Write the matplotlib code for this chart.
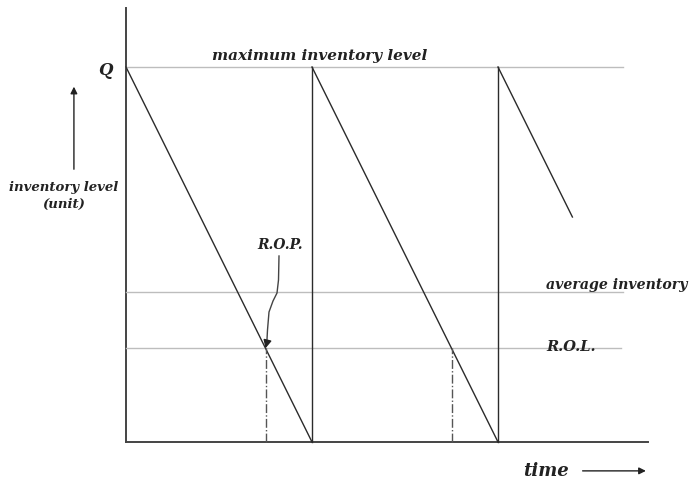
import numpy as np
import matplotlib
matplotlib.use("Agg")
import matplotlib.pyplot as plt

# inventory model values (time in cycles, level as fraction of Q)
cycle_start = [0.0, 1.0, 2.0]
cycle_end = [1.0, 2.0, 2.4]
end_level = [0.0, 0.0, 0.6]
Q = 1.0
avg_level = 0.4
rol_level = 0.25
rop_times = [0.75, 1.75]

labels = {
    "q": "Q",
    "max": "maximum inventory level",
    "avg": "average inventory",
    "rol": "R.O.L.",
    "rop": "R.O.P.",
    "ylab": "inventory level\n(unit)",
    "time": "time",
}

# pixel mapping: t -> 126 + 186 t ; level -> 442 - 375 level
px_x0, px_xs = 126, 186.0
px_y0, px_ys = 442, 375.0
W, H = 700, 482

fig = plt.figure(figsize=(7, 4.82), dpi=100)
ax = fig.add_axes([0, 0, 1, 1])
ax.set_xlim(-px_x0 / px_xs, (W - px_x0) / px_xs)
ax.set_ylim((px_y0 - H) / px_ys, px_y0 / px_ys)
ax.axis("off")

dark = "#2b2b2b"
grey = "#bdbdbd"
font = dict(family="DejaVu Serif", style="italic", weight="bold", color="#222222")

# axes
ax.plot([0, 0], [0, 1.157], color="#444444", lw=1.4)
ax.plot([0, 2.806], [0, 0], color="#444444", lw=1.4)

# reference levels
ax.plot([0, 2.67], [Q, Q], color=grey, lw=1)
ax.plot([0, 2.67], [avg_level, avg_level], color=grey, lw=1)
ax.plot([0, 2.66], [rol_level, rol_level], color=grey, lw=1)

# sawtooth
for s, e, lv in zip(cycle_start, cycle_end, end_level):
    ax.plot([s, e], [Q, lv], color=dark, lw=1)
    if lv == 0:
        ax.plot([e, e], [0, Q], color=dark, lw=1)

# reorder points
for t in rop_times:
    ax.plot([t, t], [0, rol_level], color="#555555", lw=1, linestyle="-.")

# R.O.P. curved arrow
cx = (np.array([279, 278.5, 277, 273, 269, 267.5, 266.8]) - px_x0) / px_xs
cy = (px_y0 - np.array([256, 280, 293, 301, 312, 330, 343])) / px_ys
ax.plot(cx, cy, color="#444444", lw=1)
ax.annotate("", xy=(rop_times[0], rol_level), xytext=(cx[-1], cy[-1]),
            arrowprops=dict(arrowstyle="-|>", color="#222222", lw=1, mutation_scale=12))

# inventory level arrow
ax.annotate("", xy=(-0.28, 0.955), xytext=(-0.28, 0.72),
            arrowprops=dict(arrowstyle="-|>", color="#222222", lw=1, mutation_scale=10))

# time arrow
ax.annotate("", xy=(2.81, -0.077), xytext=(2.44, -0.077),
            arrowprops=dict(arrowstyle="-|>", color="#222222", lw=1, mutation_scale=10))

ax.text(-0.07, Q - 0.008, labels["q"], ha="right", va="center", fontsize=12, **font)
ax.text(1.04, 1.03, labels["max"], ha="center", va="center", fontsize=11, **font)
ax.text(2.26, 0.42, labels["avg"], ha="left", va="center", fontsize=10.2, **font)
ax.text(2.26, 0.253, labels["rol"], ha="left", va="center", fontsize=10.5, **font)
ax.text(0.83, 0.525, labels["rop"], ha="center", va="center", fontsize=10, **font)
ax.text(-0.335, 0.656, labels["ylab"], ha="center", va="center", fontsize=9.5,
        linespacing=1.4, **font)
ax.text(2.26, -0.077, labels["time"], ha="center", va="center", fontsize=13, **font)

fig.savefig("out.png", dpi=100)
